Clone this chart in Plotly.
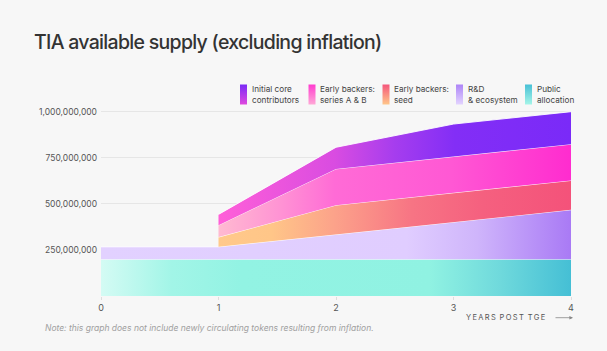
import plotly.graph_objects as go

# ---------------- data ----------------
years = [0, 1, 2, 3, 4]
public_allocation = [200.0e6, 200.0e6, 200.0e6, 200.0e6, 200.0e6]
rnd_ecosystem = [66.98e6, 66.98e6, 133.95e6, 200.93e6, 267.9e6]
seed_backers = [None, 52.5e6, 159.0e6, 159.0e6, 159.0e6]
series_ab_backers = [None, 65.0e6, 196.7e6, 196.7e6, 196.7e6]
core_contributors = [None, 58.2e6, 117.3e6, 176.4e6, 176.4e6]

y_tickvals = [250e6, 500e6, 750e6, 1000e6]
x_tickvals = [0, 1, 2, 3, 4]

legend_labels = [
    ("Initial core", "contributors"),
    ("Early backers:", "series A & B"),
    ("Early backers:", "seed"),
    ("R&D", "& ecosystem"),
    ("Public", "allocation"),
]

# ---------------- styles ----------------
BG = "#f7f7f7"
W, H = 607, 351

layers = [
    dict(values=public_allocation, start=0,
         scale=[[0, "#d4fbf4"], [0.15, "#a2f5e7"], [0.3, "#92f3e3"], [0.7, "#90f2e2"], [0.85, "#6fd9dc"], [1, "#45bfd5"]]),
    dict(values=rnd_ecosystem, start=0,
         scale=[[0, "#e2d1ff"], [0.65, "#e0cdff"], [0.8, "#cfb5fb"], [1, "#a97af5"]]),
    dict(values=seed_backers, start=1,
         scale=[[0, "#ffc98b"], [0.15, "#ffc688"], [0.33, "#fca28a"], [0.55, "#f77484"], [0.75, "#f5607f"], [1, "#f4527a"]]),
    dict(values=series_ab_backers, start=1,
         scale=[[0, "#ffbad1"], [0.18, "#ff92d4"], [0.33, "#ff6bd6"], [0.66, "#ff58d4"], [1, "#ff2ccf"]]),
    dict(values=core_contributors, start=1,
         scale=[[0, "#ff5fd8"], [0.33, "#d94ce1"], [0.5, "#a63dee"], [0.67, "#832ef6"], [1, "#7a2af8"]]),
]

legend_swatches = [
    ("#7a2af6", "#e04ade"),
    ("#ff3ccf", "#ffa8d6"),
    ("#f4567b", "#ffc78a"),
    ("#ad84f7", "#e3d4ff"),
    ("#48c0d6", "#a5f5e8"),
]
legend_x = [240, 308.5, 382.5, 456, 525]

fig = go.Figure()

base = [0.0] * len(years)
for L in layers:
    vals = L["values"]
    idx = [i for i, v in enumerate(vals) if v is not None]
    xs = [years[i] for i in idx]
    tops = [base[i] + vals[i] for i in idx]
    bots = [base[i] for i in idx]
    fig.add_trace(go.Scatter(
        x=xs + xs[::-1], y=tops + bots[::-1],
        fill="toself", mode="lines", line=dict(width=0),
        fillgradient=dict(type="horizontal", colorscale=L["scale"],
                          start=L["start"], stop=4),
        hoverinfo="skip", showlegend=False, xaxis="x", yaxis="y"))
    fig.add_trace(go.Scatter(
        x=xs, y=tops, mode="lines",
        line=dict(color="rgba(255,255,255,0.9)", width=1),
        hoverinfo="skip", showlegend=False, xaxis="x", yaxis="y"))
    for i in idx:
        base[i] += vals[i]

# legend swatches in pixel space (overlay axes)
sw_w, sw_top, sw_bot = 7, 84.5, 104.5
for (ctop, cbot), x0 in zip(legend_swatches, legend_x):
    fig.add_trace(go.Scatter(
        x=[x0, x0 + sw_w, x0 + sw_w, x0, x0],
        y=[sw_top, sw_top, sw_bot, sw_bot, sw_top],
        fill="toself", mode="lines", line=dict(width=0),
        fillgradient=dict(type="vertical", colorscale=[[0, ctop], [1, cbot]],
                          start=sw_top, stop=sw_bot),
        hoverinfo="skip", showlegend=False, xaxis="x2", yaxis="y2"))

annotations = []
TXT = "#444444"
for (l1, l2), x0 in zip(legend_labels, legend_x):
    for txt, yy in ((l1, 89.3), (l2, 100.3)):
        annotations.append(dict(
            text=txt, x=(x0 + 9.5) / W, y=1 - yy / H, xref="paper", yref="paper",
            xanchor="left", yanchor="middle", showarrow=False,
            font=dict(family="Inter", size=8.2, color=TXT)))

annotations.append(dict(
    text='<span style="letter-spacing:-0.7px">TIA available supply (excluding inflation)</span>',
    x=32 / W, y=1 - 42 / H,
    xref="paper", yref="paper", xanchor="left", yanchor="middle", showarrow=False,
    font=dict(family="Inter", size=19.5, color="#333333", weight=500)))

annotations.append(dict(
    text="Note: this graph does not include newly circulating tokens resulting from inflation.",
    x=43 / W, y=1 - 328 / H, xref="paper", yref="paper", xanchor="left", yanchor="middle",
    showarrow=False, font=dict(family="Inter", size=8.5, color="#a0a0a0", style="italic")))

spaced = "\u2009".join(list("YEARS")) + "\u2002" + "\u2009".join(list("POST")) + "\u2002" + "\u2009".join(list("TGE"))
annotations.append(dict(
    text=spaced, x=548 / W, y=1 - 317.7 / H, xref="paper", yref="paper",
    xanchor="right", yanchor="middle", showarrow=False,
    font=dict(family="Inter", size=7.5, color="#555555")))
annotations.append(dict(
    text="", x=573 / W, y=1 - 317.7 / H, xref="paper", yref="paper",
    showarrow=True, ax=-19, ay=0, axref="pixel", ayref="pixel",
    arrowhead=2, arrowsize=0.9, arrowwidth=0.8, arrowcolor="#888888"))

fig.update_layout(
    width=W, height=H,
    margin=dict(l=0, r=0, t=0, b=0),
    paper_bgcolor=BG, plot_bgcolor="rgba(0,0,0,0)",
    showlegend=False,
    annotations=annotations,
    xaxis=dict(domain=[101 / W, 571 / W], range=[0, 4], tickvals=x_tickvals,
               showgrid=False, zeroline=False, showline=False,
               ticks="outside", ticklen=3, tickcolor="#dddddd", tickwidth=1,
               ticklabelstandoff=0,
               tickfont=dict(family="Inter", size=9, color="#555555"),
               automargin=False, fixedrange=True),
    yaxis=dict(domain=[55 / H, 247 / H], range=[0, 1.0418e9], tickvals=y_tickvals,
               tickformat=",d", showgrid=True, gridcolor="#e6e6e6", gridwidth=1,
               zeroline=False, showline=False, ticks="", ticklabelstandoff=3,
               tickfont=dict(family="Inter", size=8.5, color="#555555"),
               automargin=False, fixedrange=True),
    xaxis2=dict(domain=[0, 1], range=[0, W], anchor="y2", visible=False, fixedrange=True),
    yaxis2=dict(domain=[0, 1], range=[H, 0], anchor="x2", visible=False, fixedrange=True),
)

fig.write_html("out.html")
